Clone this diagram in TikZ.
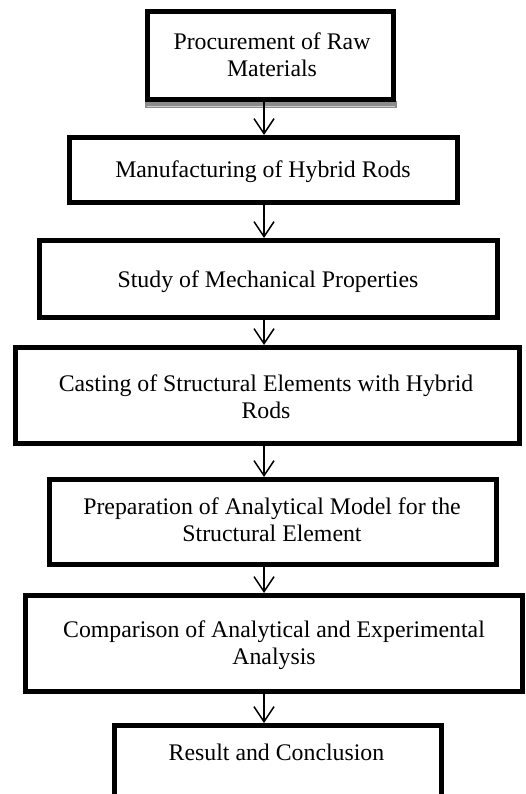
\documentclass[tikz,border=0pt]{standalone}
\usepackage{fontspec}
\setmainfont{Liberation Serif}
\usetikzlibrary{arrows.meta}
\tikzset{
  box/.style={draw=black, line width=5pt, rectangle, inner sep=0pt, fill=white},
  txt/.style={align=center, inner sep=0pt, font=\fontsize{23.8}{26.8}\selectfont},
  flow/.style={line width=1.5pt, -{Straight Barb[length=15pt,width=20pt,line width=1.5pt]}}
}
\begin{document}
\begin{tikzpicture}[x=1pt,y=-1pt]
\clip (0,0) rectangle (525,794);
\fill[white] (0,0) rectangle (525,794);
% shadow under first box
\fill[black!45] (145,101) rectangle (397,108);
\draw[black!20, line width=0.8pt] (147,106) -- (395,106);
% boxes
\node[box, minimum width=246pt, minimum height=88pt] (b1) at (270.5,55.5) {};
\node[box, minimum width=388pt, minimum height=65pt] (b2) at (263.5,170) {};
\node[box, minimum width=458pt, minimum height=77pt] (b3) at (268.5,279) {};
\node[box, minimum width=504pt, minimum height=96pt] (b4) at (267.5,395.5) {};
\node[box, minimum width=447pt, minimum height=85pt] (b5) at (273,522) {};
\node[box, minimum width=497pt, minimum height=96pt] (b6) at (274,643.5) {};
\node[box, minimum width=327pt, minimum height=95pt] (b7) at (278,773) {};
% texts (base anchor = baseline of the last line)
\node[txt, anchor=base] (t1) at (272,76.5) {Procurement of Raw\\Materials};
\node[txt, anchor=base] (t2) at (263,178) {Manufacturing of Hybrid Rods};
\node[txt, anchor=base] (t3) at (268,287) {Study of Mechanical Properties};
\node[txt, anchor=base] (t4) at (266,418.5) {Casting of Structural Elements with Hybrid\\Rods};
\node[txt, anchor=base] (t5) at (272,541.5) {Preparation of Analytical Model for the\\Structural Element};
\node[txt, anchor=base] (t6) at (274,664.5) {Comparison of Analytical and Experimental\\Analysis};
\node[txt, anchor=base] (t7) at (276.5,760) {Result and Conclusion};
% arrows
\coordinate (ax) at (264,0);
\draw[flow] (b1.south -| ax) -- (b2.north -| ax);
\draw[flow] (b2.south -| ax) -- (b3.north -| ax);
\draw[flow] (b3.south -| ax) -- (b4.north -| ax);
\draw[flow] (b4.south -| ax) -- (b5.north -| ax);
\draw[flow] (b5.south -| ax) -- (b6.north -| ax);
\draw[flow] (b6.south -| ax) -- (b7.north -| ax);
\end{tikzpicture}
\end{document}
